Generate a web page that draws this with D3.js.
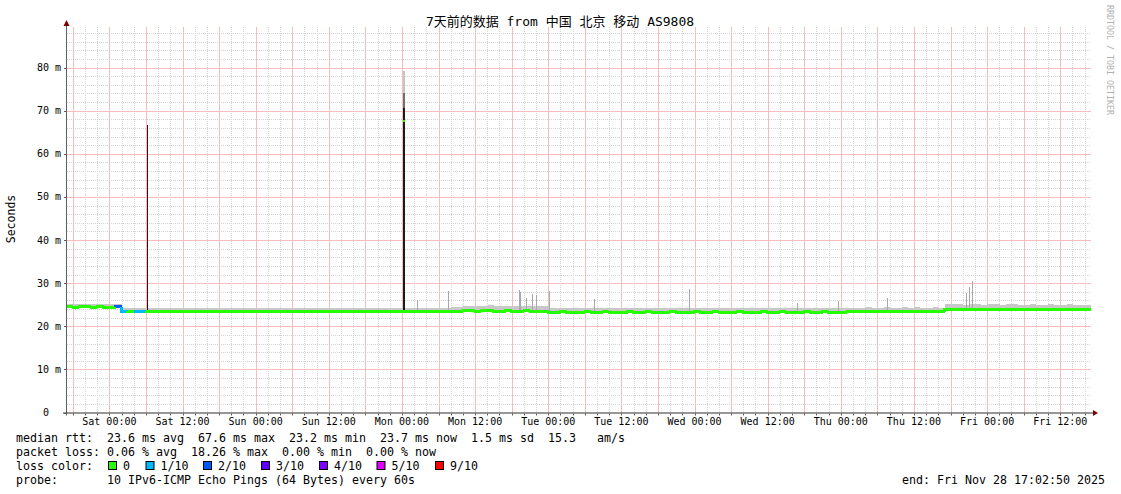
<!DOCTYPE html>
<html><head><meta charset="utf-8">
<script src="https://cdn.jsdelivr.net/npm/d3@7"></script>
<style>
body{margin:0;background:#fff}
text{font-family:"DejaVu Sans Mono","Noto Sans CJK SC",monospace}
</style>
</head><body><svg id="c" width="1121" height="494"></svg>
<script>
// ---------- data ----------
const titleText = "7天前的数据 from 中国 北京 移动 AS9808";
const yLabel = "Seconds";
const startTime = new Date(2025, 10, 21, 17, 2, 50);
const endTime = new Date(2025, 10, 28, 17, 2, 50);
const yTicks = [0, 10, 20, 30, 40, 50, 60, 70, 80];
const yTickLabels = ["0  ", "10 m", "20 m", "30 m", "40 m", "50 m", "60 m", "70 m", "80 m"];

// hourly median rtt (ms), 168 hours from start
const medianMs = [
  24.5,24.4,24.5,24.5,24.4,24.5,24.4,24.4,24.5,
  23.5,23.4,23.4,23.5,23.4,23.4,23.5,23.4,23.4,23.4,
  23.5,23.4,23.4,23.4,23.5,23.4,23.4,23.5,23.4,23.4,
  23.4,23.5,23.4,23.4,23.4,23.5,23.4,23.4,23.4,23.5,
  23.4,23.4,23.5,23.4,23.4,23.4,23.5,23.4,23.4,23.4,
  23.5,23.4,23.4,23.4,23.5,23.4,23.4,23.5,23.4,23.4,
  23.4,23.5,23.4,23.4,23.4,23.5,
  23.6,23.6,23.5,23.6,23.6,23.5,23.5,23.6,23.5,23.5,23.6,23.5,23.5,23.5,
  23.3,23.3,23.4,23.3,23.3,23.3,23.4,23.3,23.3,23.4,
  23.3,23.3,23.3,23.4,23.3,23.3,23.4,23.3,23.3,23.3,
  23.4,23.3,23.3,23.3,23.4,23.3,23.3,23.4,23.3,23.3,
  23.3,23.4,23.3,23.3,23.3,23.4,23.3,23.3,23.4,23.3,
  23.3,23.3,23.4,23.3,23.3,23.4,23.3,23.3,23.3,23.4,
  23.4,23.4,23.5,23.4,23.4,23.5,23.4,23.4,23.5,23.4,
  23.5,23.4,23.4,23.5,23.4,
  23.9,23.9,24.0,23.9,23.8,23.9,23.9,23.8,23.9,23.9,23.8,23.9,
  23.8,23.8,23.9,23.8,23.8,23.8,23.9,23.8,23.8,23.8,23.8,23.8
];
// hourly top of the smoke (ms)
const smokeHiMs = [
  25.1,25.2,25.1,25.1,25.2,25.1,25.1,25.2,25.1,
  24.2,24.3,24.2,24.2,24.3,24.2,24.2,24.2,24.3,24.2,
  24.2,24.3,24.2,24.2,24.2,24.3,24.2,24.2,24.3,24.2,
  24.2,24.2,24.3,24.2,24.2,24.3,24.2,24.2,24.2,24.3,
  24.2,24.2,24.3,24.2,24.2,24.2,24.3,24.2,24.2,24.2,
  24.3,24.2,24.2,24.2,24.3,24.2,24.2,24.3,24.2,24.2,
  24.2,24.3,24.2,24.2,24.4,24.4,
  24.8,24.8,24.7,24.8,24.9,24.8,24.7,24.8,24.8,24.7,24.8,24.8,24.7,24.8,
  24.2,24.2,24.3,24.2,24.2,24.2,24.3,24.2,24.2,24.3,
  24.2,24.2,24.2,24.3,24.2,24.2,24.3,24.2,24.2,24.2,
  24.3,24.2,24.2,24.2,24.3,24.2,24.2,24.3,24.2,24.2,
  24.2,24.3,24.2,24.2,24.2,24.3,24.2,24.2,24.3,24.2,
  24.2,24.2,24.3,24.2,24.2,24.3,24.2,24.2,24.2,24.3,
  24.3,24.3,24.4,24.3,24.3,24.4,24.3,24.3,24.4,24.3,
  24.4,24.3,24.3,24.4,24.3,
  25.1,25.2,25.1,25.0,25.1,25.1,25.0,25.1,25.1,25.0,25.1,25.1,
  25.0,25.0,25.1,25.0,25.0,25.1,25.0,25.0,25.1,25.0,25.0,25.0
];
// hours with packet loss (index into lossColors)
const lossHours = [8, 9, 11, 12];
const lossLevels = [2, 1, 1, 1];

// narrow smoke spikes: hour offset, top (ms)
const spikeHours = [57.4, 62.5, 74.2, 74.4, 75.3, 76.3, 76.9, 79.0, 86.5, 102.0, 119.8, 126.5, 134.6, 147.5, 148.0, 148.4];
const spikeTops  = [26.1, 28.2, 28.4, 28.0, 26.6, 27.5, 27.2, 28.2, 26.3, 28.6, 25.4, 25.9, 26.5, 27.8, 29.2, 30.5];

// median spikes: hour, median peak (ms), dark smoke top, mid smoke top, light smoke top
const medSpikeHours = [13.1, 55.1];
const medSpikePeak  = [66.6, 67.6];
const medSpikeDark  = [66.6, 70.6];
const medSpikeMid   = [66.6, 74.1];
const medSpikeLight = [66.6, 79.3];

const lossColors = ["#26ff00", "#00b8ff", "#0059ff", "#5e00ff", "#7e00ff", "#dd00ff", "#ff0000"];
const lossLabels = ["0", "1/10", "2/10", "3/10", "4/10", "5/10", "9/10"];

const legendRtt  = "median rtt:  23.6 ms avg  67.6 ms max  23.2 ms min  23.7 ms now  1.5 ms sd  15.3   am/s";
const legendLoss = "packet loss: 0.06 % avg  18.26 % max  0.00 % min  0.00 % now";
const legendColor = "loss color:";
const legendProbe = "probe:       10 IPv6-ICMP Echo Pings (64 Bytes) every 60s";
const legendEnd = "end: Fri Nov 28 17:02:50 2025";
const watermark = "RRDTOOL / TOBI OETIKER";

const nb = s => s.replace(/ /g, "\u00a0");

// ---------- layout ----------
const plotL = 67, plotR = 1091, plotT = 27, plotB = 412.5;
const svg = d3.select("#c");
svg.append("rect").attr("width", 1121).attr("height", 494).attr("fill", "#fff");

const x = d3.scaleTime().domain([startTime, endTime]).range([plotL, plotR]);
const y = d3.scaleLinear().domain([0, 89.4]).range([plotB, plotT]);
const hourT = h => new Date(startTime.getTime() + h * 3600e3);

// ---------- grid ----------
const gridMinor = "#d4d4d4", gridMajor = "#f7bcbc";
const g = svg.append("g").attr("shape-rendering", "crispEdges");
const minorTimes = d3.timeHour.every(2).range(startTime, endTime);
const majorTimes = d3.timeHour.every(6).range(startTime, endTime);
const minorY = d3.range(2, 89.4, 2);
g.selectAll("line.hmin").data(minorY.filter(v => v % 10 !== 0)).join("line").attr("class", "hmin")
  .attr("x1", plotL).attr("x2", plotR)
  .attr("y1", d => Math.round(y(d)) + 0.5).attr("y2", d => Math.round(y(d)) + 0.5)
  .attr("stroke", gridMinor).attr("stroke-dasharray", "1,1");
g.selectAll("line.vmin").data(minorTimes.filter(t => t.getHours() % 6 !== 0)).join("line").attr("class", "vmin")
  .attr("x1", d => Math.round(x(d)) + 0.5).attr("x2", d => Math.round(x(d)) + 0.5)
  .attr("y1", plotT).attr("y2", plotB)
  .attr("stroke", gridMinor).attr("stroke-dasharray", "1,1");
g.selectAll("line.hmaj").data(yTicks.slice(1)).join("line").attr("class", "hmaj")
  .attr("x1", plotL - 2).attr("x2", plotR)
  .attr("y1", d => Math.round(y(d)) + 0.5).attr("y2", d => Math.round(y(d)) + 0.5)
  .attr("stroke", gridMajor);
g.selectAll("line.vmaj").data(majorTimes).join("line").attr("class", "vmaj")
  .attr("x1", d => Math.round(x(d)) + 0.5).attr("x2", d => Math.round(x(d)) + 0.5)
  .attr("y1", plotT).attr("y2", plotB + 2)
  .attr("stroke", gridMajor);

// ---------- smoke ----------
const hours = d3.range(medianMs.length);
const dg = svg.append("g").attr("shape-rendering", "crispEdges");
dg.selectAll("rect.smoke").data(hours).join("rect").attr("class", "smoke")
  .attr("x", i => x(hourT(i))).attr("width", i => x(hourT(i + 1)) - x(hourT(i)))
  .attr("y", i => y(smokeHiMs[i])).attr("height", i => y(medianMs[i]) - y(smokeHiMs[i]))
  .attr("fill", "#c8c8c8");
dg.selectAll("rect.spike").data(spikeHours).join("rect").attr("class", "spike")
  .attr("x", (h) => Math.round(x(hourT(h)))).attr("width", 1)
  .attr("y", (h, i) => y(spikeTops[i])).attr("height", (h, i) => y(medianMs[Math.floor(h)]) - y(spikeTops[i]))
  .attr("fill", "#a8a8a8");
// median spikes
medSpikeHours.forEach((h, i) => {
  const xx = Math.round(x(hourT(h)));
  const base = y(medianMs[Math.floor(h)]);
  const w = i === 0 ? 1 : 2;
  dg.append("rect").attr("x", xx).attr("width", w).attr("y", y(medSpikeLight[i])).attr("height", base - y(medSpikeLight[i])).attr("fill", "#c4c4c4");
  dg.append("rect").attr("x", xx).attr("width", w).attr("y", y(medSpikeMid[i])).attr("height", base - y(medSpikeMid[i])).attr("fill", "#707070");
  dg.append("rect").attr("x", xx).attr("width", w).attr("y", y(medSpikeDark[i])).attr("height", base - y(medSpikeDark[i])).attr("fill", i === 0 ? "#3a1010" : "#1a1a1a");
  if (i > 0) dg.append("rect").attr("x", xx).attr("width", 2).attr("y", y(medSpikePeak[i]) - 1).attr("height", 2).attr("fill", lossColors[0]);
});

// ---------- median line ----------
const lossOf = i => { const k = lossHours.indexOf(i); return k < 0 ? 0 : lossLevels[k]; };
dg.selectAll("path.med").data(hours).join("path").attr("class", "med")
  .attr("d", i => {
    const x0 = x(hourT(i)), x1 = x(hourT(i + 1));
    const yp = y(i > 0 ? medianMs[i - 1] : medianMs[i]), yc = y(medianMs[i]);
    return `M${x0},${yp}V${yc}H${x1}`;
  })
  .attr("fill", "none").attr("stroke", i => lossColors[lossOf(i)]).attr("stroke-width", 3);

// ---------- axes ----------
const ax = svg.append("g");
ax.append("line").attr("x1", plotL - 0.5).attr("x2", plotL - 0.5).attr("y1", plotB + 3).attr("y2", 24)
  .attr("stroke", "#606060").attr("stroke-width", 1);
ax.append("line").attr("x1", plotL - 4).attr("x2", plotR + 2).attr("y1", plotB + 0.5).attr("y2", plotB + 0.5)
  .attr("stroke", "#303030").attr("stroke-width", 1);
ax.append("path").attr("d", `M${plotL - 3.5},${26}L${plotL - 0.5},${20}L${plotL + 2.5},${26}Z`).attr("fill", "#7f0000");
ax.append("path").attr("d", `M${plotR + 2},${plotB - 2.5}L${plotR + 7},${plotB + 0.5}L${plotR + 2},${plotB + 3.5}Z`).attr("fill", "#7f0000");
ax.selectAll("line.xt").data(minorTimes).join("line").attr("class", "xt")
  .attr("x1", d => Math.round(x(d)) + 0.5).attr("x2", d => Math.round(x(d)) + 0.5)
  .attr("y1", plotB + 1).attr("y2", plotB + 3).attr("stroke", "#606060");
ax.selectAll("line.yt").data(yTicks).join("line").attr("class", "yt")
  .attr("x1", plotL - 3).attr("x2", plotL).attr("y1", d => Math.round(y(d)) + 0.5).attr("y2", d => Math.round(y(d)) + 0.5)
  .attr("stroke", "#606060");

// y labels
svg.selectAll("text.yl").data(yTicks).join("text").attr("class", "yl")
  .attr("x", 61).attr("y", d => y(d) + 3.5).attr("text-anchor", "end")
  .attr("font-size", 10).attr("fill", "#000")
  .text((d, i) => nb(yTickLabels[i]));
// x labels
const labelTimes = d3.timeHour.every(12).range(startTime, endTime);
const fmt = d3.timeFormat("%a %H:%M");
svg.selectAll("text.xl").data(labelTimes).join("text").attr("class", "xl")
  .attr("x", d => x(d)).attr("y", 425).attr("text-anchor", "middle")
  .attr("font-size", 10).attr("fill", "#000").text(d => fmt(d));

// title
svg.append("text").attr("x", 560).attr("y", 25.5).attr("text-anchor", "middle")
  .attr("font-size", 13).attr("fill", "#000").text(titleText);
// y label
svg.append("text").attr("transform", "translate(14.5,219) rotate(-90)").attr("text-anchor", "middle")
  .attr("font-size", 11.5).attr("fill", "#000").text(yLabel);
// watermark
svg.append("text").attr("transform", "translate(1107,5) rotate(90)").attr("text-anchor", "start")
  .attr("font-size", 8.3).attr("fill", "#b0b0b0").text(watermark);

// legend
const lf = 11.63;
const leg = svg.append("g").attr("font-size", lf).attr("fill", "#000");
leg.append("text").attr("x", 16).attr("y", 442).text(nb(legendRtt));
leg.append("text").attr("x", 16).attr("y", 456).text(nb(legendLoss));
leg.append("text").attr("x", 16).attr("y", 470).text(nb(legendColor));
leg.append("text").attr("x", 16).attr("y", 484).text(nb(legendProbe));
leg.append("text").attr("x", 1105).attr("y", 484).attr("text-anchor", "end").text(nb(legendEnd));
const boxX = [108, 145.5, 203, 261, 319, 376.5, 435];
leg.selectAll("rect.lb").data(lossColors).join("rect").attr("class", "lb")
  .attr("x", (d, i) => boxX[i] + 0.5).attr("y", 461.5).attr("width", 8).attr("height", 8)
  .attr("fill", d => d).attr("stroke", "#000").attr("stroke-width", 1);
leg.selectAll("text.lt").data(lossLabels).join("text").attr("class", "lt")
  .attr("x", (d, i) => boxX[i] + 15).attr("y", 470).text(d => d);
</script>
</body></html>
